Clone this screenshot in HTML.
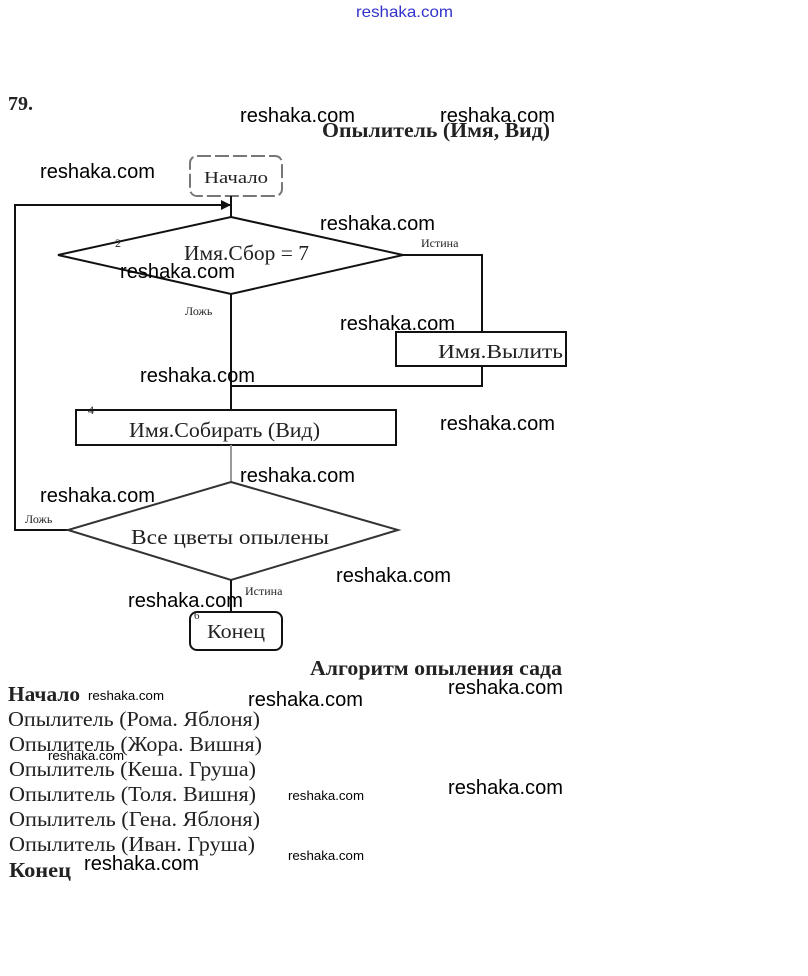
<!DOCTYPE html>
<html><head><meta charset="utf-8">
<style>
html,body{margin:0;padding:0;background:#fff;}
svg{display:block;}
.w{font-family:"Liberation Sans",sans-serif;font-size:20px;fill:#000;font-weight:500;}
.ws{font-family:"Liberation Sans",sans-serif;font-size:13px;fill:#000;}
.s{font-family:"Liberation Serif",serif;fill:#222;}
</style></head><body>
<svg width="808" height="976" viewBox="0 0 808 976" xmlns="http://www.w3.org/2000/svg">
<rect width="808" height="976" fill="#fff"/>
<text x="356" y="17" textLength="97" lengthAdjust="spacingAndGlyphs" font-family="Liberation Sans,sans-serif" font-size="16" fill="#3333cc">reshaka.com</text>
<text x="8" y="110" class="s" font-size="20" font-weight="bold">79.</text>
<text x="322" y="137" class="s" font-size="21" font-weight="bold" fill="#555" textLength="228" lengthAdjust="spacingAndGlyphs">Опылитель (Имя, Вид)</text>

<g fill="none" stroke="#111" stroke-width="2">
<rect x="190" y="156" width="92" height="40" rx="7" stroke="#777" stroke-dasharray="14 4"/>
<line x1="231" y1="196" x2="231" y2="217"/>
<polyline points="231,205 15,205 15,530 70,530"/>
<polygon points="231,217 403,255 231,294 58,255"/>
<polyline points="403,255 482,255 482,332"/>
<rect x="396" y="332" width="170" height="34"/>
<polyline points="482,366 482,386 231,386"/>
<line x1="231" y1="294" x2="231" y2="410"/>
<rect x="76" y="410" width="320" height="35"/>
<line x1="231" y1="445" x2="231" y2="482" stroke="#999"/>
<polygon points="231,482 398,530 231,580 68,530" stroke="#333"/>
<line x1="231" y1="580" x2="231" y2="612"/>
<rect x="190" y="612" width="92" height="38" rx="7"/>
</g>
<polygon points="231,205 221,200 221,210" fill="#111"/>

<text x="204" y="183" class="s" font-size="17" fill="#888" textLength="64" lengthAdjust="spacingAndGlyphs">Начало</text>
<text x="184" y="260" class="s" font-size="21" textLength="125" lengthAdjust="spacingAndGlyphs">Имя.Сбор = 7</text>
<text x="115" y="247" class="s" font-size="12">2</text>
<text x="421" y="247" class="s" font-size="12">Истина</text>
<text x="185" y="315" class="s" font-size="12">Ложь</text>
<text x="438" y="358" class="s" font-size="20" textLength="125" lengthAdjust="spacingAndGlyphs">Имя.Вылить</text>
<text x="88" y="414" class="s" font-size="12">4</text>
<text x="129" y="437" class="s" font-size="21" textLength="191" lengthAdjust="spacingAndGlyphs">Имя.Собирать (Вид)</text>
<text x="25" y="523" class="s" font-size="12" fill="#555">Ложь</text>
<text x="131" y="544" class="s" font-size="21" textLength="198" lengthAdjust="spacingAndGlyphs">Все цветы опылены</text>
<text x="245" y="595" class="s" font-size="12">Истина</text>
<text x="194" y="619" class="s" font-size="11">6</text>
<text x="207" y="638" class="s" font-size="20" textLength="58" lengthAdjust="spacingAndGlyphs">Конец</text>

<text x="310" y="675" class="s" font-size="21" font-weight="bold" textLength="252" lengthAdjust="spacingAndGlyphs">Алгоритм опыления сада</text>
<text x="8" y="701" class="s" font-size="21" font-weight="bold" textLength="72" lengthAdjust="spacingAndGlyphs">Начало</text>
<text x="8" y="726" class="s" font-size="21" textLength="252" lengthAdjust="spacingAndGlyphs">Опылитель (Рома. Яблоня)</text>
<text x="9" y="751" class="s" font-size="21" textLength="253" lengthAdjust="spacingAndGlyphs">Опылитель (Жора. Вишня)</text>
<text x="9" y="776" class="s" font-size="21" textLength="247" lengthAdjust="spacingAndGlyphs">Опылитель (Кеша. Груша)</text>
<text x="9" y="801" class="s" font-size="21" fill="#555" textLength="247" lengthAdjust="spacingAndGlyphs">Опылитель (Толя. Вишня)</text>
<text x="9" y="826" class="s" font-size="21" fill="#777" textLength="251" lengthAdjust="spacingAndGlyphs">Опылитель (Гена. Яблоня)</text>
<text x="9" y="851" class="s" font-size="21" fill="#666" textLength="246" lengthAdjust="spacingAndGlyphs">Опылитель (Иван. Груша)</text>
<text x="9" y="877" class="s" font-size="21" font-weight="bold" fill="#444" textLength="62" lengthAdjust="spacingAndGlyphs">Конец</text>

<g>
<text x="240" y="122" class="w" textLength="115" lengthAdjust="spacingAndGlyphs">reshaka.com</text>
<text x="440" y="122" class="w" textLength="115" lengthAdjust="spacingAndGlyphs">reshaka.com</text>
<text x="40" y="178" class="w" textLength="115" lengthAdjust="spacingAndGlyphs">reshaka.com</text>
<text x="320" y="230" class="w" textLength="115" lengthAdjust="spacingAndGlyphs">reshaka.com</text>
<text x="120" y="278" class="w" textLength="115" lengthAdjust="spacingAndGlyphs">reshaka.com</text>
<text x="340" y="330" class="w" textLength="115" lengthAdjust="spacingAndGlyphs">reshaka.com</text>
<text x="140" y="382" class="w" textLength="115" lengthAdjust="spacingAndGlyphs">reshaka.com</text>
<text x="440" y="430" class="w" textLength="115" lengthAdjust="spacingAndGlyphs">reshaka.com</text>
<text x="240" y="482" class="w" textLength="115" lengthAdjust="spacingAndGlyphs">reshaka.com</text>
<text x="40" y="502" class="w" textLength="115" lengthAdjust="spacingAndGlyphs">reshaka.com</text>
<text x="336" y="582" class="w" textLength="115" lengthAdjust="spacingAndGlyphs">reshaka.com</text>
<text x="128" y="607" class="w" textLength="115" lengthAdjust="spacingAndGlyphs">reshaka.com</text>
<text x="448" y="694" class="w" textLength="115" lengthAdjust="spacingAndGlyphs">reshaka.com</text>
<text x="248" y="706" class="w" textLength="115" lengthAdjust="spacingAndGlyphs">reshaka.com</text>
<text x="448" y="794" class="w" textLength="115" lengthAdjust="spacingAndGlyphs">reshaka.com</text>
<text x="84" y="870" class="w" textLength="115" lengthAdjust="spacingAndGlyphs">reshaka.com</text>
</g>
<text x="88" y="700" class="ws" textLength="76" lengthAdjust="spacingAndGlyphs">reshaka.com</text>
<text x="48" y="760" class="ws" textLength="76" lengthAdjust="spacingAndGlyphs">reshaka.com</text>
<text x="288" y="800" class="ws" textLength="76" lengthAdjust="spacingAndGlyphs">reshaka.com</text>
<text x="288" y="860" class="ws" textLength="76" lengthAdjust="spacingAndGlyphs">reshaka.com</text>
</svg>
</body></html>
